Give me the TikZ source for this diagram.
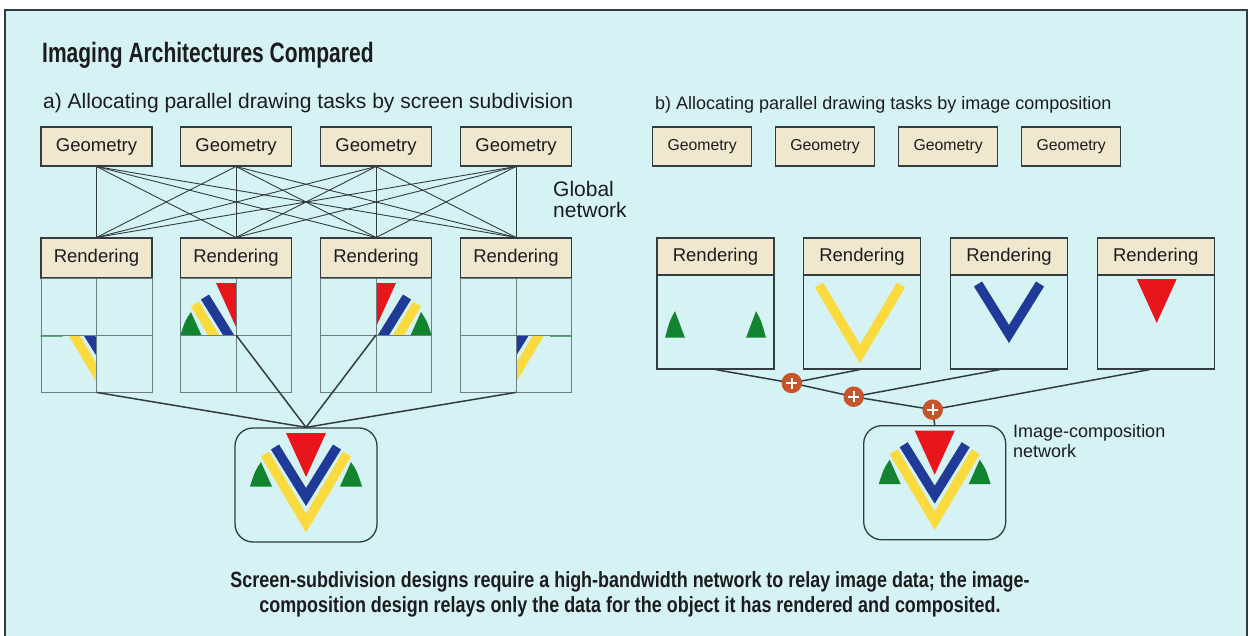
\documentclass[tikz,border=0pt]{standalone}
\usepackage{fontspec}
\setmainfont{Liberation Sans}
\newfontfamily\condfont{Liberation Sans}[FakeStretch=0.75]
\newfontfamily\captionfont{Liberation Sans}[FakeStretch=0.815]

\definecolor{panelbg}{RGB}{213,242,245}
\definecolor{boxfill}{RGB}{239,231,206}
\definecolor{ink}{RGB}{50,60,66}
\definecolor{gridink}{RGB}{110,125,130}
\definecolor{txt}{RGB}{28,28,30}
\definecolor{vred}{RGB}{232,22,28}
\definecolor{vblue}{RGB}{32,58,152}
\definecolor{vyellow}{RGB}{250,218,60}
\definecolor{vgreen}{RGB}{18,132,48}
\definecolor{plusfill}{RGB}{198,86,42}

% parts of the rendered picture, drawn around a local origin (y grows downwards)
\newcommand{\redpart}{\fill[vred] (-20,-52) -- (20,-52) -- (0,-8) -- cycle;}
\newcommand{\bluepart}{\draw[vblue, line width=9.5pt] (-31,-38) -- (0,12) -- (31,-38);}
\newcommand{\yellowpart}{\draw[vyellow, line width=9.5pt] (-41,-31) -- (0,38) -- (41,-31);}
\newcommand{\greenpart}{%
  \fill[vgreen] (-34,1.5) -- (-45,-23) .. controls (-51,-14) .. (-56,1.5) -- cycle;
  \fill[vgreen] (34,1.5) -- (45,-23) .. controls (51,-14) .. (56,1.5) -- cycle;}
\newcommand{\fullimage}{\greenpart\yellowpart\bluepart\redpart}

\tikzset{
  lbl/.style={draw=ink, line width=1.1pt, fill=boxfill, inner sep=0pt, text=txt},
  gridbox/.style={draw=gridink, line width=0.8pt, inner sep=0pt},
  panelbox/.style={draw=ink, line width=1.1pt, inner sep=0pt},
  link/.style={draw=ink, line width=0.9pt},
  feed/.style={draw=ink, line width=1.5pt},
  compbox/.style={draw=ink, line width=1.3pt, rounded corners=18pt, inner sep=0pt,
    minimum width=142pt, minimum height=114pt},
  plusnode/.style={circle, fill=plusfill, minimum size=20.5pt, inner sep=0pt,
    path picture={\draw[white, line width=1.6pt]
      ([xshift=-5.5pt]path picture bounding box.center) -- ([xshift=5.5pt]path picture bounding box.center)
      ([yshift=-5.5pt]path picture bounding box.center) -- ([yshift=5.5pt]path picture bounding box.center);}},
  heading/.style={anchor=base west, inner sep=0pt, text=txt, font=\fontsize{21}{22}\selectfont},
}

\begin{document}
\begin{tikzpicture}[x=1pt,y=-1pt]
\useasboundingbox (0,0) rectangle (1252,636);
\fill[white] (0,0) rectangle (1252,636);
\fill[panelbg] (5,10) rectangle (1247,636);
\draw[ink, line width=1.3pt] (5,640) -- (5,10) -- (1247,10) -- (1247,640);

\node[anchor=base west, inner sep=0pt, text=txt, font=\condfont\bfseries\fontsize{28}{32}\selectfont]
  (title) at (42,63) {Imaging Architectures Compared};

% ---------- a) screen subdivision ----------
\node[heading] (labA) at (43,109) {a) Allocating parallel drawing tasks by screen subdivision};

\foreach \i/\x in {1/96.5,2/236,3/376,4/516} {
  \node[lbl, minimum width=111pt, minimum height=39pt, font=\fontsize{18.5}{20}\selectfont]
    (gA\i) at (\x,146.5) {Geometry};
  \node[lbl, minimum width=111pt, minimum height=40pt, font=\fontsize{18.5}{20}\selectfont]
    (rA\i) at (\x,258) {Rendering};
  \node[gridbox, minimum width=111pt, minimum height=114pt] (cA\i) at (\x,335) {};
}
\foreach \i in {1,...,4} \foreach \j in {1,...,4} \draw[link] (gA\i.south) -- (rA\j.north);

\node[heading, anchor=north west, align=left, font=\fontsize{21}{21.5}\selectfont]
  (globnet) at (553,181) {Global\\network};

% each renderer draws one quadrant of the screen
\begin{scope}\clip (cA1.west) rectangle (cA1.south);
  \begin{scope}[shift={(cA1.center)}]\fullimage\end{scope}\end{scope}
\begin{scope}\clip (cA2.north west) rectangle (cA2.center);
  \begin{scope}[shift={(cA2.center)}]\fullimage\end{scope}\end{scope}
\begin{scope}\clip (cA3.north) rectangle (cA3.east);
  \begin{scope}[shift={(cA3.center)}]\fullimage\end{scope}\end{scope}
\begin{scope}\clip (cA4.center) rectangle (cA4.south east);
  \begin{scope}[shift={(cA4.center)}]\fullimage\end{scope}\end{scope}
\foreach \i in {1,...,4}
  \draw[gridink, line width=0.8pt] (cA\i.north) -- (cA\i.south) (cA\i.west) -- (cA\i.east);

\node[compbox] (compA) at (306,485) {};
\begin{scope}[shift={(compA.center)}]\fullimage\end{scope}

\draw[feed] (cA1.south) -- (compA.north);
\draw[feed] (cA2.center) -- (compA.north);
\draw[feed] (cA3.center) -- (compA.north);
\draw[feed] (cA4.south) -- (compA.north);

% ---------- b) image composition ----------
\node[heading, font=\fontsize{18}{20}\selectfont] (labB) at (655,110)
  {b) Allocating parallel drawing tasks by image composition};

\foreach \i/\x in {1/702.2,2/825,3/948.2,4/1071.2}
  \node[lbl, minimum width=99pt, minimum height=39pt, font=\fontsize{15.8}{18}\selectfont]
    (gB\i) at (\x,146.5) {Geometry};

\foreach \i/\x in {1/715.5,2/862,3/1009,4/1155.7} {
  \node[lbl, minimum width=117pt, minimum height=37pt, font=\fontsize{18.5}{20}\selectfont]
    (rB\i) at (\x,256.5) {Rendering};
  \node[panelbox, minimum width=117pt, minimum height=94pt] (pB\i) at (\x,322) {};
}

\begin{scope}[shift={([yshift=-14pt]pB1.center)}, xscale=0.9, yscale=1.08]\greenpart\end{scope}
\begin{scope}[shift={([xshift=-2pt,yshift=6pt]pB2.center)}]\yellowpart\end{scope}
\begin{scope}[shift={(pB3.center)}]\bluepart\end{scope}
\begin{scope}[shift={([xshift=1pt,yshift=-9pt]pB4.center)}]\redpart\end{scope}

\node[compbox] (compB) at (934.7,482.7) {};
\begin{scope}[shift={(compB.center)}]\fullimage\end{scope}

% composition stages
\draw[feed] (pB1.south) -- (791.7,383) coordinate (j1);
\draw[feed] ([xshift=-2pt]pB2.south) -- (j1);
\draw[feed] (j1) -- (853.7,396.7) coordinate (j2);
\draw[feed] ([xshift=-9pt]pB3.south) -- (j2);
\draw[feed] (j2) -- (932.7,409.7) coordinate (j3);
\draw[feed] ([xshift=-6pt]pB4.south) -- (j3);
\draw[feed] (j3) -- (compB.north);
\node[plusnode] (p1) at (j1) {};
\node[plusnode] (p2) at (j2) {};
\node[plusnode] (p3) at (j3) {};

\node[anchor=north west, align=left, inner sep=0pt, text=txt, font=\fontsize{18}{20}\selectfont]
  (imgnet) at (1013,424) {Image-composition\\network};

% ---------- caption ----------
\node[anchor=north, align=center, inner sep=0pt, text=txt,
  font=\captionfont\bfseries\fontsize{22}{25}\selectfont] (caption) at (630,571)
  {Screen-subdivision designs require a high-bandwidth network to relay image data; the image-\\
   composition design relays only the data for the object it has rendered and composited.};
\end{tikzpicture}
\end{document}
